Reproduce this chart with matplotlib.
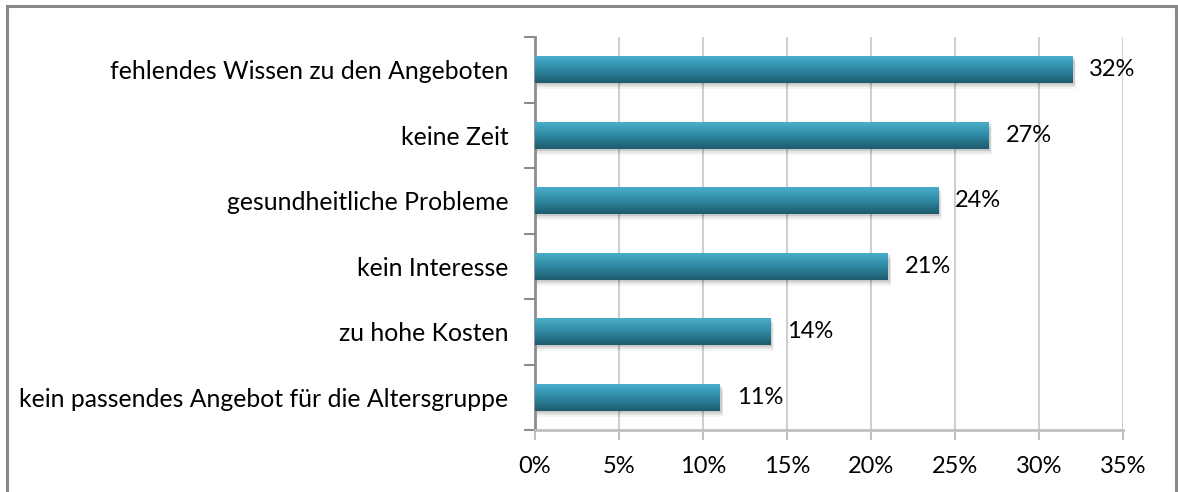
import matplotlib
matplotlib.use("Agg")
import matplotlib.pyplot as plt
import numpy as np
from matplotlib.colors import LinearSegmentedColormap
from matplotlib.patches import Rectangle

categories = [
    "fehlendes Wissen zu den Angeboten",
    "keine Zeit",
    "gesundheitliche Probleme",
    "kein Interesse",
    "zu hohe Kosten",
    "kein passendes Angebot für die Altersgruppe",
]
values = [32, 27, 24, 21, 14, 11]
xticks = [0, 5, 10, 15, 20, 25, 30, 35]
xticklabels = ["0%", "5%", "10%", "15%", "20%", "25%", "30%", "35%"]

plt.rcParams['font.family'] = ['Lato', 'DejaVu Sans']

W, H = 1178, 492
fig = plt.figure(figsize=(W / 100, H / 100), dpi=100)

# outer chart frame
fig.patches.append(Rectangle((7 / W, -0.05), (1176 - 7) / W, (H - 6) / H + 0.05,
                             transform=fig.transFigure, fill=False,
                             edgecolor="#888888", linewidth=2.2))

left, right, top, bottom = 535, 1123, 37, 430
ax = fig.add_axes([left / W, 1 - bottom / H, (right - left) / W, (bottom - top) / H])
n = len(categories)

for s in ["top", "right"]:
    ax.spines[s].set_visible(False)
ax.spines["left"].set_color("#8c8c8c")
ax.spines["left"].set_linewidth(2)
ax.spines["bottom"].set_color("#c0c0c0")
ax.spines["bottom"].set_linewidth(2)

fs = 17
ax.set_xticks(xticks)
ax.set_xticklabels(xticklabels, fontsize=fs)
ax.tick_params(axis="x", length=7, width=1.5, color="#c0c0c0", pad=12)
ax.set_yticks(np.arange(n + 1) - 0.5, minor=True)
ax.set_yticks(np.arange(n))
ax.set_yticklabels(categories[::-1], fontsize=17.8)
ax.tick_params(axis="y", which="major", length=0, pad=19)
ax.tick_params(axis="y", which="minor", length=8, width=1.5, color="#8c8c8c")
ax.grid(axis="x", color="#cfcfcf", linewidth=1.5)
ax.set_axisbelow(True)

cmap = LinearSegmentedColormap.from_list("g", ["#1e5a6c", "#2e88a2", "#4aafcb"])
grad = np.linspace(0, 1, 256).reshape(-1, 1)
bh = 0.41
ys = np.arange(n)[::-1]
for y, v in zip(ys, values):
    # soft shadow
    for k, a in enumerate([0.10, 0.07, 0.04]):
        sh = Rectangle((0, y - bh / 2 - 0.03 - k * 0.03), v + 0.12 + k * 0.05, bh,
                       facecolor="#000000", alpha=a, edgecolor="none", zorder=2)
        ax.add_patch(sh)
    bar = ax.barh(y, v, height=bh, color="none", edgecolor="none", zorder=3)[0]
    im = ax.imshow(grad, cmap=cmap, aspect="auto", origin="lower",
                   extent=[0, v, y - bh / 2, y + bh / 2], zorder=3,
                   interpolation="bilinear")
    im.set_clip_path(bar)
    ax.text(v + 1.0, y, f"{v}%", va="center", ha="left", fontsize=fs, zorder=4)

ax.set_xlim(0, 35)
ax.set_ylim(-0.5, n - 0.5)

fig.savefig("out.png", dpi=100)
